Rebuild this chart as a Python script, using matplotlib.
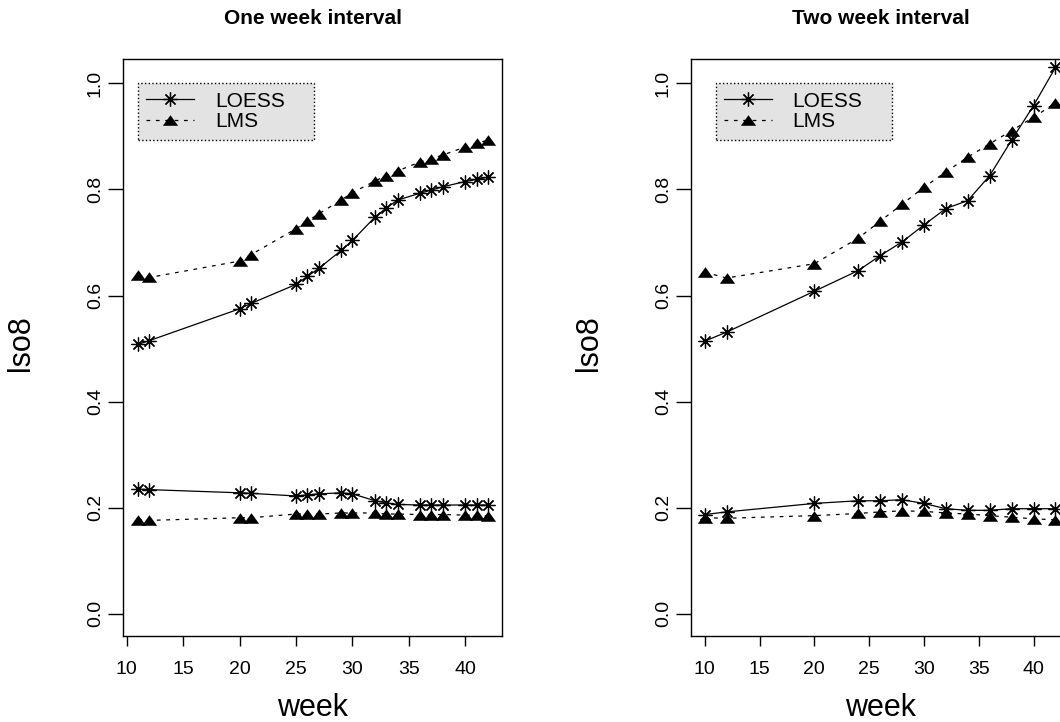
import numpy as np
import matplotlib
matplotlib.use('Agg')
import matplotlib.pyplot as plt

plt.rcParams['font.family'] = ['Liberation Sans', 'DejaVu Sans']

# weekly fits, one week spacing
weeks1 = [11, 12, 20, 21, 25, 26, 27, 29, 30, 32, 33, 34, 36, 37, 38, 40, 41, 42]
loess_hi_1 = [0.508, 0.515, 0.575, 0.585, 0.621, 0.636, 0.651, 0.685, 0.704,
              0.748, 0.765, 0.780, 0.793, 0.799, 0.805, 0.815, 0.819, 0.823]
lms_hi_1 = [0.638, 0.634, 0.665, 0.677, 0.726, 0.740, 0.754, 0.780, 0.794,
            0.816, 0.826, 0.835, 0.852, 0.858, 0.865, 0.880, 0.887, 0.893]
loess_lo_1 = [0.235, 0.234, 0.228, 0.227, 0.222, 0.224, 0.226, 0.228, 0.226,
              0.213, 0.209, 0.206, 0.205, 0.205, 0.205, 0.205, 0.205, 0.205]
lms_lo_1 = [0.177, 0.176, 0.181, 0.181, 0.188, 0.188, 0.188, 0.190, 0.190,
            0.190, 0.188, 0.188, 0.187, 0.187, 0.187, 0.186, 0.186, 0.184]

# two week spacing
weeks2 = [10, 12, 20, 24, 26, 28, 30, 32, 34, 36, 38, 40, 42]
loess_hi_2 = [0.514, 0.531, 0.608, 0.647, 0.675, 0.701, 0.733, 0.764, 0.779,
              0.826, 0.893, 0.958, 1.030]
lms_hi_2 = [0.644, 0.633, 0.660, 0.708, 0.740, 0.772, 0.804, 0.833, 0.861,
            0.886, 0.911, 0.936, 0.963]
loess_lo_2 = [0.187, 0.192, 0.208, 0.213, 0.213, 0.215, 0.208, 0.198, 0.195,
              0.195, 0.198, 0.198, 0.198]
lms_lo_2 = [0.181, 0.180, 0.185, 0.189, 0.192, 0.194, 0.193, 0.190, 0.188,
            0.185, 0.182, 0.179, 0.177]

titles = ['One week interval', 'Two week interval']
yticks = [0.0, 0.2, 0.4, 0.6, 0.8, 1.0]
xticks = [10, 15, 20, 25, 30, 35, 40]

# R style markers: asterisk (pch 8) and a flat filled triangle (pch 17)
STAR = (8, 2, 0)
TRI = [(-1.3, -0.9), (1.3, -0.9), (0.0, 0.9), (-1.3, -0.9)]


def panel(ax, weeks, lo_hi, lm_hi, lo_lo, lm_lo, xlim, title):
    star_kw = dict(color='black', lw=0.9, marker=STAR, ms=10, mew=0.9)
    tri_kw = dict(color='black', lw=0.9, dashes=(3, 4.5), marker=TRI, ms=11,
                  mec='black', mfc='black', mew=0)
    ax.plot(weeks, lo_hi, label='LOESS', **star_kw)
    ax.plot(weeks, lm_hi, label='LMS', **tri_kw)
    ax.plot(weeks, lo_lo, **star_kw)
    ax.plot(weeks, lm_lo, **tri_kw)

    ax.set_xlim(xlim)
    ax.set_ylim(-0.042, 1.046)
    ax.set_xticks(xticks)
    ax.set_yticks(yticks)
    ax.set_yticklabels(['%.1f' % v for v in yticks])
    ax.tick_params(axis='x', direction='out', length=7.2, width=1.0,
                   pad=11, labelsize=14)
    ax.tick_params(axis='y', direction='out', length=10.8, width=1.0,
                   pad=3, labelsize=14, labelrotation=90)
    for lab in ax.get_yticklabels():
        lab.set_va('center')
    for sp in ax.spines.values():
        sp.set_linewidth(1.0)

    ax.set_xlabel('week', fontsize=22, va='center')
    ax.xaxis.set_label_coords(0.5, -0.125)
    ax.set_ylabel('lso8', fontsize=22, va='center')
    ax.yaxis.set_label_coords(-0.268, 0.508)
    ax.set_title(title, fontsize=15, fontweight='bold', y=1.071, pad=0,
                 va='center')

    # legend anchored at week 11, value 1.0
    x0 = (11 - xlim[0]) / (xlim[1] - xlim[0])
    y_top = (1.0 + 0.042) / 1.088
    w = 176.0 / 379.0
    h = 61.0 / 577.0
    leg = ax.legend(loc='upper left', bbox_to_anchor=(x0, y_top - h, w, h),
                    mode='expand', borderaxespad=0, fontsize=15,
                    handlelength=2.3, handletextpad=1.0, labelspacing=0.08,
                    borderpad=0.4, fancybox=False, framealpha=1)
    fr = leg.get_frame()
    fr.set_facecolor('#e3e3e3')
    fr.set_edgecolor('black')
    fr.set_linestyle(':')
    fr.set_linewidth(1.0)


def main():
    fig = plt.figure(figsize=(10.6, 7.22), dpi=100)
    W, H = 1060.0, 722.0
    ax1 = fig.add_axes([123 / W, (H - 636) / H, 379 / W, 577 / H])
    ax2 = fig.add_axes([691 / W, (H - 636) / H, 379 / W, 577 / H])

    panel(ax1, weeks1, loess_hi_1, lms_hi_1, loess_lo_1, lms_lo_1,
          (9.66, 43.25), titles[0])
    panel(ax2, weeks2, loess_hi_2, lms_hi_2, loess_lo_2, lms_lo_2,
          (8.75, 43.33), titles[1])

    fig.savefig('out.png', dpi=100)


if __name__ == "__main__":
    main()
